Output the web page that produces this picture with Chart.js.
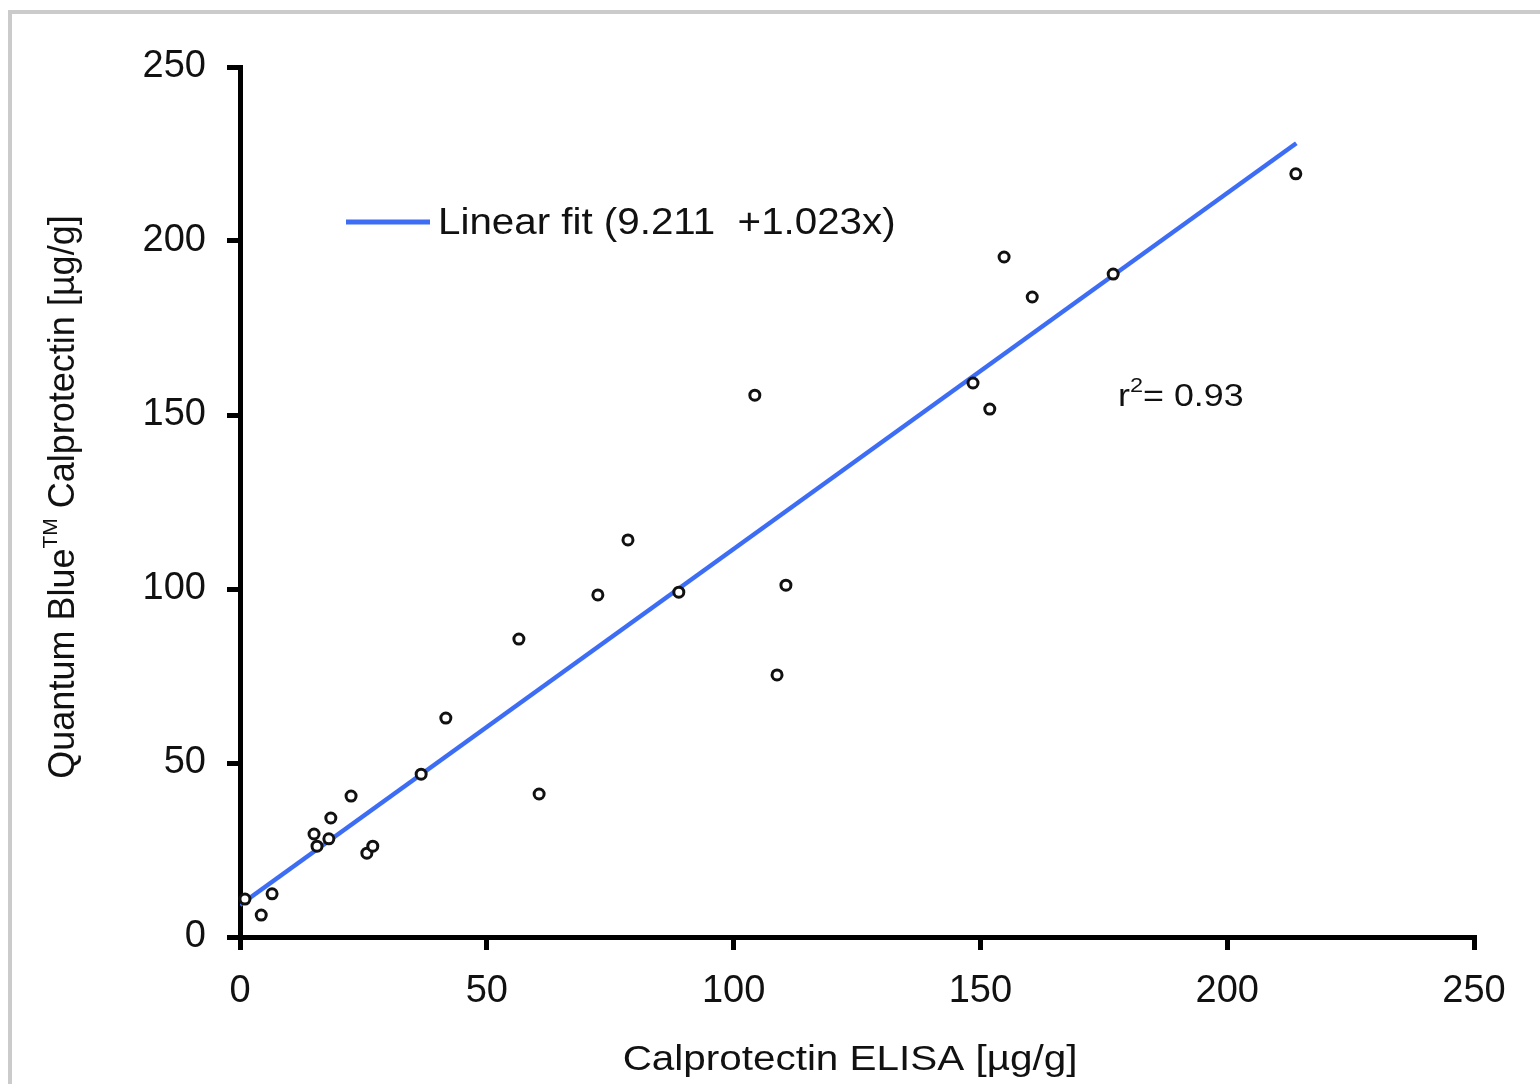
<!DOCTYPE html>
<html>
<head>
<meta charset="utf-8">
<script src="https://cdn.jsdelivr.net/npm/chart.js@4"></script>
<style>
  body { margin: 0; background: #fff; }
  #frame { position: absolute; left: 8px; top: 10px; width: 1600px; height: 1200px; border: 4px solid #cbcbcb; }
  #wrap { position: absolute; left: 0; top: 0; width: 1540px; height: 1084px; }
</style>
</head>
<body>
<div id="frame"></div>
<div id="wrap"><canvas id="chart"></canvas></div>
<script>
// ELISA (x) vs Quantum Blue (y)
let elisaX = [1, 4.3, 6.5, 15.0, 15.6, 18.0, 18.4, 22.5, 25.7, 26.9, 36.7, 41.7, 56.5, 60.6,
  72.5, 78.6, 88.9, 104.3, 108.8, 110.6, 148.5, 151.9, 154.8, 160.5, 176.9, 213.9];
let quantumY = [10.9, 6.3, 12.4, 29.6, 26.1, 28.2, 34.2, 40.5, 24.1, 26.1, 46.8, 62.9, 85.6, 41.1,
  98.3, 114.1, 99.1, 155.7, 75.3, 101.1, 159.2, 151.7, 195.4, 183.9, 190.5, 219.3];

// ends of the fitted line
let fitX = [0, 214];
let fitY = [9.2, 228.1];

let xTicks = [0, 50, 100, 150, 200, 250];
let yTicks = [0, 50, 100, 150, 200, 250];

let fitLabel = 'Linear fit (9.211  +1.023x)';
let blue = '#3d6df5';
let fontName = '"Liberation Sans", Arial, sans-serif';

let points = elisaX.map(function (x, i) { return { x: x, y: quantumY[i] }; });
let fitPoints = fitX.map(function (x, i) { return { x: x, y: fitY[i] }; });

function stretchText(ctx, text, x, y, size, sx, align) {
  ctx.save();
  ctx.font = size + 'px ' + fontName;
  let w = ctx.measureText(text).width * sx;
  let startX = align === 'center' ? x - w / 2 : x;
  ctx.translate(startX, y);
  ctx.scale(sx, 1);
  ctx.textAlign = 'left';
  ctx.textBaseline = 'alphabetic';
  ctx.fillText(text, 0, 0);
  ctx.restore();
  return w;
}

let extras = {
  id: 'extras',
  afterDraw: function (chart) {
    let ctx = chart.ctx;
    ctx.fillStyle = '#111';

    // x title
    stretchText(ctx, 'Calprotectin ELISA [µg/g]', 850, 1070, 35, 1.155, 'center');

    // y title, rotated, with superscript TM
    ctx.save();
    ctx.translate(74, 497);
    ctx.rotate(-Math.PI / 2);
    ctx.textBaseline = 'alphabetic';
    ctx.font = '36px ' + fontName;
    let a = 'Quantum Blue';
    let b = ' Calprotectin [µg/g]';
    let wa = ctx.measureText(a).width;
    let wb = ctx.measureText(b).width;
    ctx.font = '21px ' + fontName;
    let wt = ctx.measureText('TM').width;
    let total = wa + wt + wb;
    let x0 = -total / 2;
    ctx.font = '36px ' + fontName;
    ctx.fillText(a, x0, 0);
    ctx.font = '21px ' + fontName;
    ctx.fillText('TM', x0 + wa, -17);
    ctx.font = '36px ' + fontName;
    ctx.fillText(b, x0 + wa + wt, 0);
    ctx.restore();

    // legend
    ctx.save();
    ctx.strokeStyle = blue;
    ctx.lineWidth = 5;
    ctx.beginPath();
    ctx.moveTo(346, 222);
    ctx.lineTo(430, 222);
    ctx.stroke();
    ctx.restore();
    ctx.fillStyle = '#111';
    stretchText(ctx, fitLabel, 438, 234, 36, 1.12, 'left');

    // r squared
    let w1 = stretchText(ctx, 'r', 1118, 406, 32, 1.12, 'left');
    let w2 = stretchText(ctx, '2', 1118 + w1, 392, 21, 1.12, 'left');
    stretchText(ctx, '= 0.93', 1118 + w1 + w2, 406, 32, 1.12, 'left');
  }
};

new Chart(document.getElementById('chart'), {
  type: 'scatter',
  data: {
    datasets: [
      {
        label: 'data',
        data: points,
        pointRadius: 5,
        pointBorderWidth: 3,
        borderColor: '#111',
        backgroundColor: '#fff',
        pointHoverRadius: 5,
        clip: false
      },
      {
        type: 'line',
        label: fitLabel,
        data: fitPoints,
        borderColor: blue,
        borderWidth: 4.5,
        pointRadius: 0,
        fill: false
      }
    ]
  },
  options: {
    responsive: true,
    maintainAspectRatio: false,
    animation: false,
    layout: { padding: { left: 0, right: 66, top: 67, bottom: 0 } },
    plugins: { legend: { display: false }, tooltip: { enabled: false } },
    scales: {
      x: {
        type: 'linear',
        min: 0,
        max: 250,
        afterBuildTicks: function (s) { s.ticks = xTicks.map(function (v) { return { value: v }; }); },
        afterFit: function (s) { s.height = 147; },
        border: { display: true, color: '#000', width: 5 },
        grid: { drawOnChartArea: false, drawTicks: true, tickLength: 13, color: '#000', lineWidth: 5 },
        ticks: { color: '#111', font: { family: fontName, size: 38 }, padding: 19, maxRotation: 0 }
      },
      y: {
        type: 'linear',
        min: 0,
        max: 250,
        afterBuildTicks: function (s) { s.ticks = yTicks.map(function (v) { return { value: v }; }); },
        afterFit: function (s) { s.width = 240; },
        border: { display: true, color: '#000', width: 5 },
        grid: { drawOnChartArea: false, drawTicks: true, tickLength: 13, color: '#000', lineWidth: 5 },
        ticks: { color: '#111', font: { family: fontName, size: 38 }, padding: 21 }
      }
    }
  },
  plugins: [extras]
});
</script>
</body>
</html>
